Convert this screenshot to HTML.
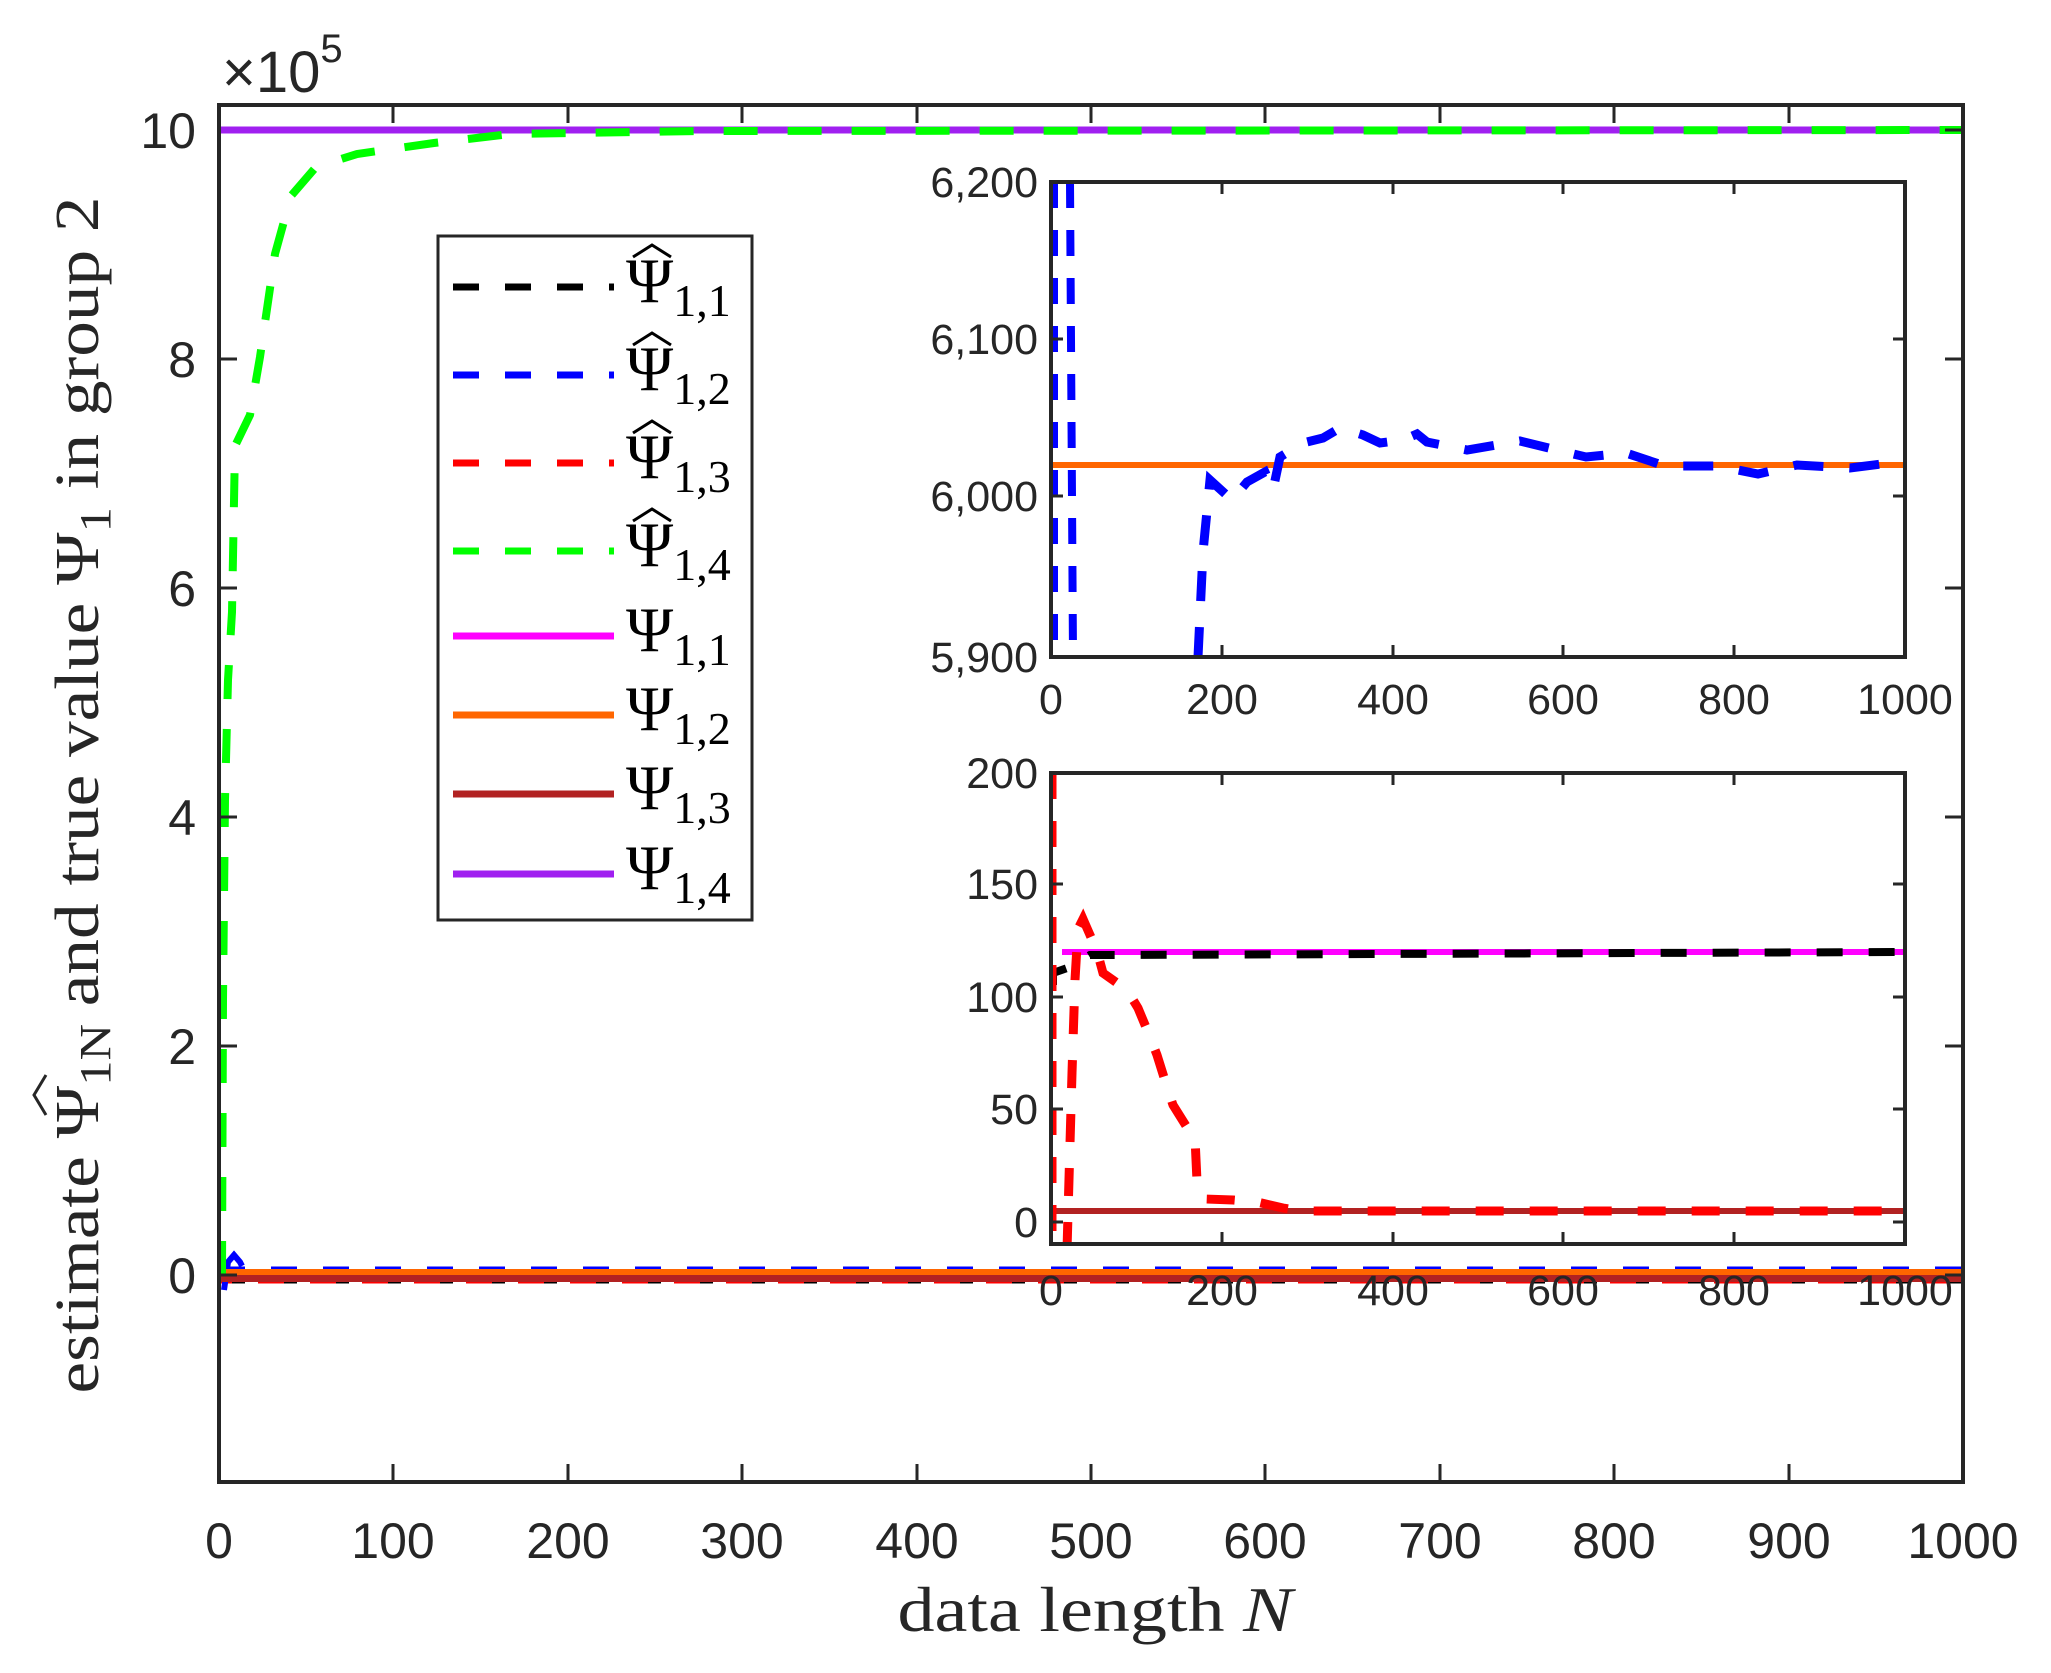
<!DOCTYPE html>
<html><head><meta charset="utf-8"><style>html,body{margin:0;padding:0;background:#fff}svg{display:block}</style></head>
<body>
<svg xmlns="http://www.w3.org/2000/svg" width="2051" height="1673" viewBox="0 0 2051 1673">
<rect width="2051" height="1673" fill="#fff"/>
<defs>
<clipPath id="cm"><rect x="219" y="105" width="1744" height="1377"/></clipPath>
<clipPath id="c1"><rect x="1051" y="182" width="854" height="475"/></clipPath>
<clipPath id="c2"><rect x="1051" y="773" width="854" height="471"/></clipPath>
</defs>
<g clip-path="url(#cm)" fill="none" stroke-width="6">
<line x1="219" y1="1269" x2="1963" y2="1269" stroke="#0000ff" stroke-width="5" stroke-dasharray="26,26"/>
<line x1="219" y1="1281" x2="1963" y2="1281" stroke="#000" stroke-width="5" stroke-dasharray="26,26"/>
<line x1="219" y1="1281" x2="1963" y2="1281" stroke="#ff0000" stroke-width="5" stroke-dasharray="26,26" stroke-dashoffset="13"/>
<path d="M224,1290 L228,1262 L234,1255 L240,1262 L242,1266" stroke="#0000ff" stroke-width="6"/>
<line x1="219" y1="1272" x2="1963" y2="1272" stroke="#ff6600" stroke-width="6"/>
<line x1="219" y1="1278.5" x2="1963" y2="1278.5" stroke="#b22222" stroke-width="7"/>
<line x1="219" y1="130" x2="1963" y2="130" stroke="#a020f0" stroke-width="7"/>
<path d="M222,1275 L223,1000 L225,800 L228,680 L232,612 L235,446 L250,415 L260,357 L275,254 L291,196 L316,167 L357,154 L434,143 L510,134 L700,131 L1963,130" stroke="#00ff00" stroke-width="8" stroke-dasharray="34,30"/>
</g>
<rect x="219" y="105" width="1744" height="1377" fill="none" stroke="#262626" stroke-width="4"/>
<g stroke="#262626" stroke-width="3">
<line x1="393" y1="1482" x2="393" y2="1464"/><line x1="568" y1="1482" x2="568" y2="1464"/><line x1="742" y1="1482" x2="742" y2="1464"/><line x1="917" y1="1482" x2="917" y2="1464"/><line x1="1091" y1="1482" x2="1091" y2="1464"/><line x1="1265" y1="1482" x2="1265" y2="1464"/><line x1="1440" y1="1482" x2="1440" y2="1464"/><line x1="1614" y1="1482" x2="1614" y2="1464"/><line x1="1789" y1="1482" x2="1789" y2="1464"/>
<line x1="393" y1="105" x2="393" y2="123"/><line x1="568" y1="105" x2="568" y2="123"/><line x1="742" y1="105" x2="742" y2="123"/><line x1="917" y1="105" x2="917" y2="123"/><line x1="1091" y1="105" x2="1091" y2="123"/><line x1="1265" y1="105" x2="1265" y2="123"/><line x1="1440" y1="105" x2="1440" y2="123"/><line x1="1614" y1="105" x2="1614" y2="123"/><line x1="1789" y1="105" x2="1789" y2="123"/>
<line x1="219" y1="359" x2="237" y2="359"/><line x1="219" y1="588" x2="237" y2="588"/><line x1="219" y1="817" x2="237" y2="817"/><line x1="219" y1="1046" x2="237" y2="1046"/><line x1="219" y1="1275" x2="237" y2="1275"/>
<line x1="1963" y1="359" x2="1945" y2="359"/><line x1="1963" y1="588" x2="1945" y2="588"/><line x1="1963" y1="817" x2="1945" y2="817"/><line x1="1963" y1="1046" x2="1945" y2="1046"/><line x1="1963" y1="1275" x2="1945" y2="1275"/><line x1="1963" y1="130" x2="1945" y2="130"/>
</g>
<g font-family="Liberation Sans, sans-serif" font-size="50" fill="#262626">
<g text-anchor="end">
<text x="196" y="148">10</text><text x="196" y="377">8</text><text x="196" y="606">6</text><text x="196" y="835">4</text><text x="196" y="1064">2</text><text x="196" y="1293">0</text>
</g>
<g text-anchor="middle">
<text x="219" y="1558">0</text><text x="393" y="1558">100</text><text x="568" y="1558">200</text><text x="742" y="1558">300</text><text x="917" y="1558">400</text><text x="1091" y="1558">500</text><text x="1265" y="1558">600</text><text x="1440" y="1558">700</text><text x="1614" y="1558">800</text><text x="1789" y="1558">900</text><text x="1963" y="1558">1000</text>
</g>
<text x="222" y="92" font-size="58">×10<tspan font-size="40" dy="-30">5</tspan></text>
</g>
<text x="1095" y="1631" text-anchor="middle" font-family="Liberation Serif, serif" font-size="64" fill="#262626" textLength="395" lengthAdjust="spacingAndGlyphs">data length <tspan font-style="italic">N</tspan></text>
<text transform="translate(98,795) rotate(-90)" text-anchor="middle" font-family="Liberation Serif, serif" font-size="62" fill="#262626" textLength="1197" lengthAdjust="spacingAndGlyphs">estimate Ψ<tspan font-size="44" dy="12">1N</tspan><tspan dy="-12"> and true value Ψ</tspan><tspan font-size="44" dy="12">1</tspan><tspan dy="-12"> in group 2</tspan></text>
<polyline points="-320,-52 -300,-64 -280,-52" transform="translate(98,795) rotate(-90)" fill="none" stroke="#262626" stroke-width="3"/>

<rect x="438" y="236" width="314" height="684" fill="#fff" stroke="#262626" stroke-width="3"/>
<g stroke-width="7" fill="none">
<line x1="453" y1="287" x2="614" y2="287" stroke="#000" stroke-dasharray="26,26"/>
<line x1="453" y1="375" x2="614" y2="375" stroke="#0000ff" stroke-dasharray="26,26"/>
<line x1="453" y1="463" x2="614" y2="463" stroke="#ff0000" stroke-dasharray="26,26"/>
<line x1="453" y1="551" x2="614" y2="551" stroke="#00ff00" stroke-dasharray="26,26"/>
<line x1="453" y1="636" x2="614" y2="636" stroke="#ff00ff"/>
<line x1="453" y1="715" x2="614" y2="715" stroke="#ff6600"/>
<line x1="453" y1="794" x2="614" y2="794" stroke="#b22222"/>
<line x1="453" y1="874" x2="614" y2="874" stroke="#a020f0"/>
</g>
<g font-family="Liberation Serif, serif" font-size="64" fill="#000">
<text x="626" y="302">Ψ<tspan font-size="46" dy="14">1,1</tspan></text>
<text x="626" y="390">Ψ<tspan font-size="46" dy="14">1,2</tspan></text>
<text x="626" y="478">Ψ<tspan font-size="46" dy="14">1,3</tspan></text>
<text x="626" y="566">Ψ<tspan font-size="46" dy="14">1,4</tspan></text>
<text x="626" y="651">Ψ<tspan font-size="46" dy="14">1,1</tspan></text>
<text x="626" y="730">Ψ<tspan font-size="46" dy="14">1,2</tspan></text>
<text x="626" y="809">Ψ<tspan font-size="46" dy="14">1,3</tspan></text>
<text x="626" y="889">Ψ<tspan font-size="46" dy="14">1,4</tspan></text>
</g>
<g fill="none" stroke="#000" stroke-width="3">
<polyline points="633,257 652,245 671,257"/><polyline points="633,345 652,333 671,345"/><polyline points="633,433 652,421 671,433"/><polyline points="633,521 652,509 671,521"/>
</g>

<rect x="1051" y="182" width="854" height="475" fill="#fff"/>
<g clip-path="url(#c1)" fill="none" stroke-width="6">
<line x1="1054" y1="182" x2="1054" y2="657" stroke="#0000ff" stroke-width="8" stroke-dasharray="26,22"/>
<line x1="1070" y1="182" x2="1073" y2="657" stroke="#0000ff" stroke-width="8" stroke-dasharray="26,22"/>
<line x1="1051" y1="465" x2="1905" y2="465" stroke="#ff6600"/>
<path d="M1198,657 L1203,552 L1210,480 L1232,500 L1247,482 L1265,472 L1273,490 L1280,457 L1303,443 L1323,438 L1340,428 L1363,435 L1380,443 L1403,440 L1417,434 L1427,442 L1467,450 L1520,441 L1586,457 L1626,453 L1665,466 L1718,466 L1758,474 L1797,465 L1850,468 L1905,461" stroke="#0000ff" stroke-width="9" stroke-dasharray="30,26"/>
</g>
<rect x="1051" y="182" width="854" height="475" fill="none" stroke="#262626" stroke-width="4"/>
<g stroke="#262626" stroke-width="3">
<line x1="1222" y1="657" x2="1222" y2="645"/><line x1="1393" y1="657" x2="1393" y2="645"/><line x1="1563" y1="657" x2="1563" y2="645"/><line x1="1734" y1="657" x2="1734" y2="645"/>
<line x1="1222" y1="182" x2="1222" y2="194"/><line x1="1393" y1="182" x2="1393" y2="194"/><line x1="1563" y1="182" x2="1563" y2="194"/><line x1="1734" y1="182" x2="1734" y2="194"/>
<line x1="1051" y1="339" x2="1063" y2="339"/><line x1="1051" y1="496" x2="1063" y2="496"/>
<line x1="1905" y1="339" x2="1893" y2="339"/><line x1="1905" y1="496" x2="1893" y2="496"/>
</g>
<g font-family="Liberation Sans, sans-serif" font-size="43" fill="#262626">
<g text-anchor="end"><text x="1038" y="197">6,200</text><text x="1038" y="354">6,100</text><text x="1038" y="511">6,000</text><text x="1038" y="672">5,900</text></g>
<g text-anchor="middle"><text x="1051" y="714">0</text><text x="1222" y="714">200</text><text x="1393" y="714">400</text><text x="1563" y="714">600</text><text x="1734" y="714">800</text><text x="1905" y="714">1000</text></g>
</g>

<rect x="1051" y="773" width="854" height="471" fill="#fff"/>
<g clip-path="url(#c2)" fill="none" stroke-width="6">
<line x1="1062" y1="952" x2="1905" y2="952" stroke="#ff00ff"/>
<line x1="1051" y1="1211" x2="1905" y2="1211" stroke="#b22222"/>
<path d="M1053,985 L1053,973 L1070,967 L1090,955 L1117,955 L1905,952" stroke="#000" stroke-width="8" stroke-dasharray="26,26"/>
<line x1="1052" y1="773" x2="1052" y2="1244" stroke="#ff0000" stroke-width="9" stroke-dasharray="26,22"/>
<path d="M1067,1250 L1072,1073 L1075,980 L1078,929 L1083,919 L1090,935 L1097,951 L1103,973 L1127,990 L1138,1008 L1150,1037 L1157,1055 L1167,1087 L1173,1105 L1188,1129 L1195,1138 L1197,1181 L1205,1199 L1233,1200 L1257,1202 L1283,1208 L1300,1211 L1905,1211" stroke="#ff0000" stroke-width="9" stroke-dasharray="28,26"/>
</g>
<rect x="1051" y="773" width="854" height="471" fill="none" stroke="#262626" stroke-width="4"/>
<g stroke="#262626" stroke-width="3">
<line x1="1222" y1="1244" x2="1222" y2="1232"/><line x1="1393" y1="1244" x2="1393" y2="1232"/><line x1="1563" y1="1244" x2="1563" y2="1232"/><line x1="1734" y1="1244" x2="1734" y2="1232"/>
<line x1="1222" y1="773" x2="1222" y2="785"/><line x1="1393" y1="773" x2="1393" y2="785"/><line x1="1563" y1="773" x2="1563" y2="785"/><line x1="1734" y1="773" x2="1734" y2="785"/>
<line x1="1051" y1="884" x2="1063" y2="884"/><line x1="1051" y1="997" x2="1063" y2="997"/><line x1="1051" y1="1109" x2="1063" y2="1109"/><line x1="1051" y1="1222" x2="1063" y2="1222"/>
<line x1="1905" y1="884" x2="1893" y2="884"/><line x1="1905" y1="997" x2="1893" y2="997"/><line x1="1905" y1="1109" x2="1893" y2="1109"/><line x1="1905" y1="1222" x2="1893" y2="1222"/>
</g>
<g font-family="Liberation Sans, sans-serif" font-size="43" fill="#262626">
<g text-anchor="end"><text x="1038" y="788">200</text><text x="1038" y="899">150</text><text x="1038" y="1012">100</text><text x="1038" y="1124">50</text><text x="1038" y="1237">0</text></g>
<g text-anchor="middle"><text x="1051" y="1305">0</text><text x="1222" y="1305">200</text><text x="1393" y="1305">400</text><text x="1563" y="1305">600</text><text x="1734" y="1305">800</text><text x="1905" y="1305">1000</text></g>
</g>
</svg>
</body></html>
